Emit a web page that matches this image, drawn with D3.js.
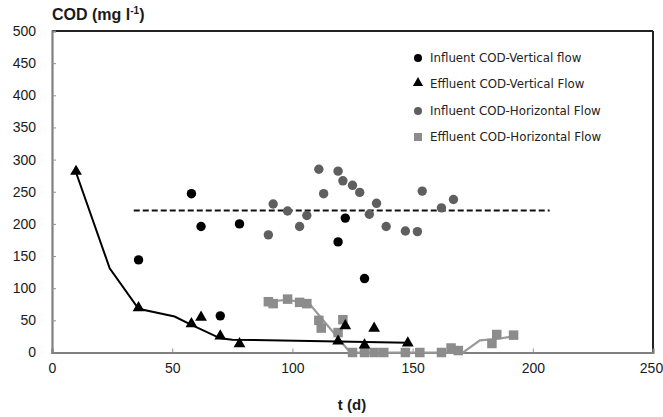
<!DOCTYPE html>
<html><head><meta charset="utf-8">
<script src="https://cdn.jsdelivr.net/npm/d3@7"></script>
<style>body{margin:0;background:#fff}svg{display:block}</style>
</head><body>
<svg id="c" width="663" height="417"></svg>
<script>
const xTicks = [0, 50, 100, 150, 200, 250];
const yTicks = [0, 50, 100, 150, 200, 250, 300, 350, 400, 450, 500];

const infVF_t = [36, 58, 62, 70, 78, 119, 122, 130];
const infVF_v = [144, 247, 196, 57, 200, 172, 209, 115];

const effVF_t = [10, 36, 58, 62, 70, 78, 119, 122, 130, 134, 148];
const effVF_v = [280, 68, 43, 53, 24, 12, 16, 40, 10, 36, 13];

const infHF_t = [90, 92, 98, 103, 106, 111, 113, 119, 121, 125, 128, 132, 135, 139, 147, 152, 154, 162, 167];
const infHF_v = [183, 231, 220, 196, 213, 285, 247, 282, 267, 260, 249, 215, 232, 196, 189, 188, 251, 225, 238];

const effHF_t = [90, 92, 98, 103, 106, 111, 112, 119, 121, 125, 130, 134, 138, 147, 153, 162, 166, 169, 183, 185, 192];
const effHF_v = [79, 76, 83, 78, 76, 50, 38, 31, 51, 0, 0, 0, 0, 0, 0, 0, 7, 3, 14, 28, 27];

const lineVF_t = [10, 24, 36, 51, 58, 70, 75, 119, 148];
const lineVF_v = [280, 131, 68, 56, 43, 22, 20, 17, 15];

const lineHF_t = [90, 98, 107, 124, 171, 178, 185, 192];
const lineHF_v = [79, 82, 76, 0, 0, 19, 21, 25];

const mean_t = [34, 207];
const mean_v = [221, 221];

const legendLabels = ["Influent COD-Vertical flow", "Effluent COD-Vertical Flow", "Influent COD-Horizontal Flow", "Effluent COD-Horizontal Flow"];

const zip = (t, v) => t.map((d, i) => [d, v[i]]);

const svg = d3.select("#c");
const L = 52, R = 653, T = 31, B = 352.5;
const x = d3.scaleLinear().domain([0, 250]).range([L, R]);
const y = d3.scaleLinear().domain([0, 500]).range([B, T]);

// frame top/right
svg.append("line").attr("x1", L).attr("x2", R).attr("y1", T).attr("y2", T).attr("stroke", "#222").attr("stroke-width", 2);
svg.append("line").attr("x1", R).attr("x2", R).attr("y1", T).attr("y2", B).attr("stroke", "#222").attr("stroke-width", 2);

const fontAx = "'Liberation Sans', Arial, sans-serif";
const gx = svg.append("g").attr("transform", `translate(0,${B})`)
  .call(d3.axisBottom(x).tickValues(xTicks).tickSize(-4).tickPadding(11).tickFormat(d3.format("d")));
const gy = svg.append("g").attr("transform", `translate(${L},0)`)
  .call(d3.axisLeft(y).tickValues(yTicks).tickSize(-4).tickPadding(16).tickFormat(d3.format("d")));
[gx, gy].forEach(g => {
  g.select(".domain").attr("stroke", "#808080").attr("stroke-width", 2.2);
  g.selectAll(".tick line").attr("stroke", "#909090").attr("stroke-width", 1);
  g.selectAll(".tick text").attr("font-family", fontAx).attr("font-size", 14).attr("fill", "#1a1a1a");
});
gy.selectAll(".tick").filter(d => d === 0 || d === 500).select("line").remove();
gx.selectAll(".tick").filter(d => d === 0 || d === 250).select("line").remove();
gx.selectAll(".tick").filter(d => d === 250).select("text").attr("dx", -2);

// titles
const tt = svg.append("text").attr("x", L).attr("y", 20).attr("font-family", fontAx).attr("font-weight", "bold").attr("font-size", 16).attr("fill", "#1a1a1a");
tt.append("tspan").text("COD (mg l");
tt.append("tspan").attr("font-size", 10).attr("dy", -6).text("-1");
tt.append("tspan").attr("dy", 6).text(")");
svg.append("text").attr("x", 352).attr("y", 410).attr("text-anchor", "middle").attr("font-family", fontAx).attr("font-weight", "bold").attr("font-size", 15).attr("fill", "#1a1a1a").text("t (d)");

const line = d3.line().x(d => x(d[0])).y(d => y(d[1]));

// mean dashed
svg.append("path").attr("d", line(zip(mean_t, mean_v))).attr("fill", "none").attr("stroke", "#111").attr("stroke-width", 2).attr("stroke-dasharray", "6,3");

// trend lines
svg.append("path").attr("d", line(zip(lineHF_t, lineHF_v))).attr("fill", "none").attr("stroke", "#999").attr("stroke-width", 2.2);
svg.append("path").attr("d", line(zip(lineVF_t, lineVF_v))).attr("fill", "none").attr("stroke", "#000").attr("stroke-width", 2);

const tri = d3.symbol().type(d3.symbolTriangle).size(60);
const sq = 9.5;

// markers
svg.append("g").selectAll("rect").data(zip(effHF_t, effHF_v)).join("rect")
  .attr("x", d => x(d[0]) - sq / 2).attr("y", d => y(d[1]) - sq / 2).attr("width", sq).attr("height", sq).attr("fill", "#8c8c8c");
svg.append("g").selectAll("circle").data(zip(infHF_t, infHF_v)).join("circle")
  .attr("cx", d => x(d[0])).attr("cy", d => y(d[1])).attr("r", 4.7).attr("fill", "#5f5f5f");
svg.append("g").selectAll("circle").data(zip(infVF_t, infVF_v)).join("circle")
  .attr("cx", d => x(d[0])).attr("cy", d => y(d[1])).attr("r", 4.7).attr("fill", "#000");
svg.append("g").selectAll("path").data(zip(effVF_t, effVF_v)).join("path")
  .attr("d", tri).attr("transform", d => `translate(${x(d[0])},${y(d[1]) - 1})`).attr("fill", "#000");

// legend
const ly = [58, 84, 111, 137], lx = 418;
const lg = svg.append("g");
lg.append("circle").attr("cx", lx).attr("cy", ly[0]).attr("r", 4).attr("fill", "#000");
lg.append("path").attr("d", d3.symbol().type(d3.symbolTriangle).size(45)).attr("transform", `translate(${lx},${ly[1] - 1})`).attr("fill", "#000");
lg.append("circle").attr("cx", lx).attr("cy", ly[2]).attr("r", 4).attr("fill", "#5f5f5f");
lg.append("rect").attr("x", lx - 4).attr("y", ly[3] - 4).attr("width", 8).attr("height", 8).attr("fill", "#8c8c8c");
lg.selectAll("text").data(legendLabels).join("text")
  .attr("x", lx + 12).attr("y", (d, i) => ly[i] + 4).attr("font-family", "'DejaVu Sans', Verdana, sans-serif").attr("font-size", 11.8).attr("fill", "#222").text(d => d);
</script>
</body></html>
